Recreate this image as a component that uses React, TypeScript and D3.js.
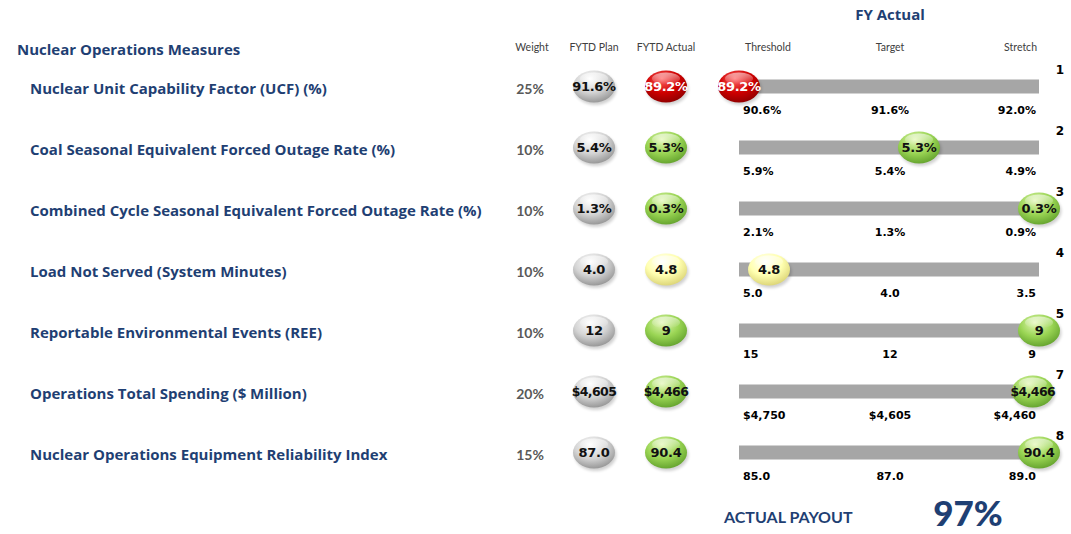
import React from "react";
import * as d3 from "d3";

const measures = [
  "Nuclear Unit Capability Factor (UCF) (%)",
  "Coal Seasonal Equivalent Forced Outage Rate (%)",
  "Combined Cycle Seasonal Equivalent Forced Outage Rate (%)",
  "Load Not Served (System Minutes)",
  "Reportable Environmental Events (REE)",
  "Operations Total Spending ($ Million)",
  "Nuclear Operations Equipment Reliability Index",
];
const rowNumbers = [1, 2, 3, 4, 5, 7, 8];
const weights = [25, 10, 10, 10, 10, 20, 15];
const planValues = [91.6, 5.4, 1.3, 4.0, 12, 4605, 87.0];
const actualValues = [89.2, 5.3, 0.3, 4.8, 9, 4466, 90.4];
const thresholdValues = [90.6, 5.9, 2.1, 5.0, 15, 4750, 85.0];
const targetValues = [91.6, 5.4, 1.3, 4.0, 12, 4605, 87.0];
const stretchValues = [92.0, 4.9, 0.9, 3.5, 9, 4460, 89.0];
const formats = ["pct", "pct", "pct", "num1", "int", "dollar", "num1"];
const statuses = ["red", "green", "green", "yellow", "green", "green", "green"];
const payout = 97;

const fmt = (v: number, f: string) => {
  if (f === "pct") return d3.format(".1f")(v) + "%";
  if (f === "num1") return d3.format(".1f")(v);
  if (f === "int") return d3.format("d")(v);
  return "$" + d3.format(",")(v);
};

const W = 1071;
const H = 534;
const BLUE = "#1F3F73";
const FONT = "'Open Sans', Lato, sans-serif";
const SMALLFONT = "Lato, 'Open Sans', sans-serif";
const TICKFONT = "'DejaVu Sans', Verdana, sans-serif";

const rowY = d3.scaleLinear().domain([0, 1]).range([86.5, 147.5]);
const barX0 = 739;
const barX1 = 1039;
const barXM = 889;

const gradStops: Record<string, [string, string, string]> = {
  gray: ["#ffffff", "#d4d4d4", "#8f8f8f"],
  red: ["#ff6b6b", "#d00000", "#8a0000"],
  green: ["#e4f7b8", "#9ad554", "#5f9e2a"],
  yellow: ["#ffffff", "#ffffb0", "#d8d070"],
};

function Bubble({ cx, cy, kind, label }: { cx: number; cy: number; kind: string; label: string }) {
  return (
    <g>
      <ellipse cx={cx + 1.5} cy={cy + 2.5} rx={21} ry={16} fill="#000" opacity={0.18} filter="url(#blur)" />
      <ellipse cx={cx} cy={cy} rx={21} ry={16} fill={`url(#g-${kind})`} />
      <ellipse cx={cx} cy={cy - 8} rx={14} ry={6} fill="url(#shine)" />
      <text
        x={cx}
        y={cy}
        textAnchor="middle"
        dominantBaseline="central"
        fontFamily={TICKFONT}
        fontWeight="bold"
        fontSize={label.length > 5 ? 12.5 : 13}
        fill={kind === "red" ? "#fff" : "#111"}
        letterSpacing={label.length > 5 ? -0.6 : -0.3}
      >
        {label}
      </text>
    </g>
  );
}

export default function App() {
  return (
    <svg width={W} height={H} style={{ position: "absolute", left: 0, top: 0, background: "#fff" }}>
      <defs>
        {Object.entries(gradStops).map(([k, s]) => (
          <radialGradient key={k} id={`g-${k}`} cx="45%" cy="35%" r="70%" fx="40%" fy="25%">
            <stop offset="0%" stopColor={s[0]} />
            <stop offset="55%" stopColor={s[1]} />
            <stop offset="100%" stopColor={s[2]} />
          </radialGradient>
        ))}
        <linearGradient id="shine" x1="0" y1="0" x2="0" y2="1">
          <stop offset="0%" stopColor="#fff" stopOpacity={0.55} />
          <stop offset="100%" stopColor="#fff" stopOpacity={0} />
        </linearGradient>
        <filter id="blur" x="-30%" y="-30%" width="160%" height="160%">
          <feGaussianBlur stdDeviation={1.5} />
        </filter>
      </defs>

      <text x={890} y={14} textAnchor="middle" dominantBaseline="central" fontFamily={FONT} fontWeight="bold" fontSize={15} fill={BLUE}>
        FY Actual
      </text>
      <text x={17} y={49} dominantBaseline="central" fontFamily={FONT} fontWeight="bold" fontSize={15} fill={BLUE}>
        Nuclear Operations Measures
      </text>
      {[
        ["Weight", 532, "middle"],
        ["FYTD Plan", 594, "middle"],
        ["FYTD Actual", 666, "middle"],
        ["Threshold", 768, "middle"],
        ["Target", 890, "middle"],
        ["Stretch", 1037, "end"],
      ].map(([t, x, a]) => (
        <text key={t as string} x={x as number} y={47} textAnchor={a as any} dominantBaseline="central" fontFamily={SMALLFONT} fontSize={10.5} fill="#404040">
          {t}
        </text>
      ))}

      {measures.map((m, i) => {
        const cy = rowY(i);
        const x = d3
          .scaleLinear()
          .domain([thresholdValues[i], targetValues[i], stretchValues[i]])
          .range([barX0, barXM, barX1])
          .clamp(true);
        const f = formats[i];
        return (
          <g key={m}>
            <text x={30} y={cy + 1} dominantBaseline="central" fontFamily={FONT} fontWeight="bold" fontSize={15} fill={BLUE}>
              {m}
            </text>
            <text x={530} y={cy + 2} textAnchor="middle" dominantBaseline="central" fontFamily={SMALLFONT} fontWeight="bold" fontSize={14} fill="#595959">
              {weights[i]}%
            </text>
            <Bubble cx={594} cy={cy} kind="gray" label={fmt(planValues[i], f)} />
            <Bubble cx={666} cy={cy} kind={statuses[i]} label={fmt(actualValues[i], f)} />
            <rect x={barX0} y={cy - 7} width={barX1 - barX0} height={14} fill="#A6A6A6" />
            <text x={743} y={cy + 27} fontFamily={TICKFONT} fontWeight="bold" fontSize={11} fill="#000">
              {fmt(thresholdValues[i], f)}
            </text>
            <text x={890} y={cy + 27} textAnchor="middle" fontFamily={TICKFONT} fontWeight="bold" fontSize={11} fill="#000">
              {fmt(targetValues[i], f)}
            </text>
            <text x={1036} y={cy + 27} textAnchor="end" fontFamily={TICKFONT} fontWeight="bold" fontSize={11} fill="#000">
              {fmt(stretchValues[i], f)}
            </text>
            <text x={1060} y={cy - 13} textAnchor="middle" fontFamily={TICKFONT} fontWeight="bold" fontSize={12} fill="#000">
              {rowNumbers[i]}
            </text>
            <Bubble cx={x(actualValues[i])} cy={cy} kind={statuses[i]} label={fmt(actualValues[i], f)} />
          </g>
        );
      })}

      <text x={724} y={516} dominantBaseline="central" fontFamily={SMALLFONT} fontWeight="bold" fontSize={16} fill={BLUE}>
        ACTUAL PAYOUT
      </text>
      <text x={968} y={526} textAnchor="middle" fontFamily={SMALLFONT} fontWeight="900" fontSize={35} fill={BLUE}>
        {payout}%
      </text>
    </svg>
  );
}
